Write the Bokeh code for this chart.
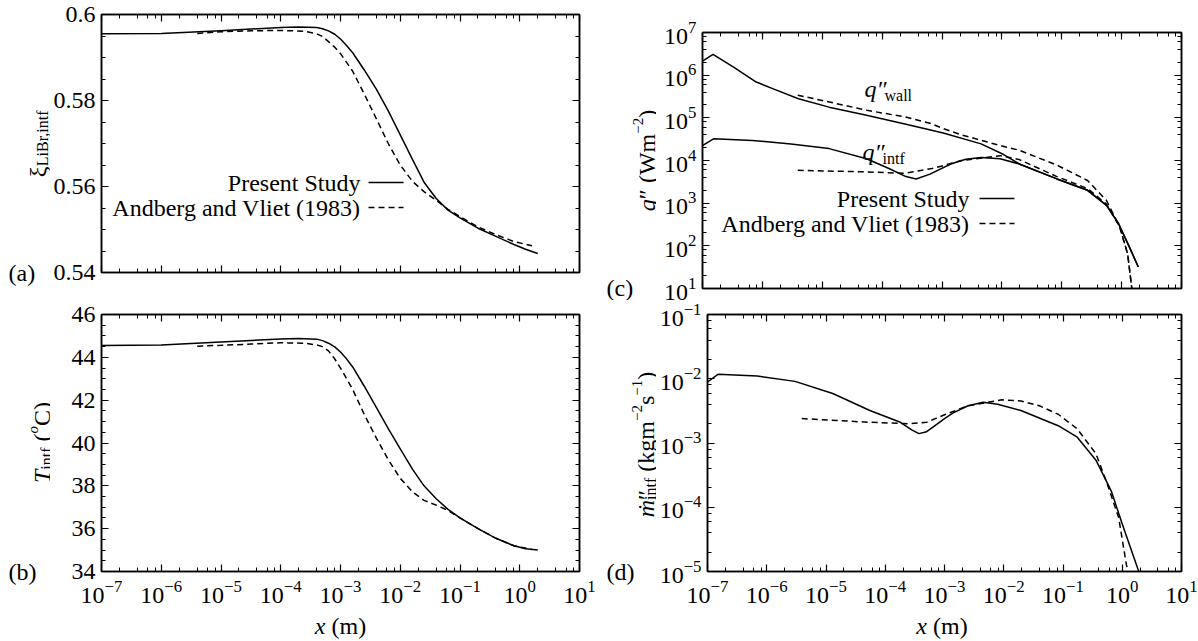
import math
from bokeh.plotting import figure
from bokeh.models import (Range1d, Label, Arrow, LogTicker, FixedTicker,
                          CustomJSTickFormatter, LogTickFormatter, LinearAxis, LogAxis)
from bokeh.layouts import row, column
from bokeh.embed import file_html
from bokeh.resources import INLINE

# ---------------- data (x in metres) ----------------
# (a) interfacial LiBr mass fraction, (b) interfacial temperature
x_present_ab = [1.0e-7, 1.0e-6, 1.0e-5, 3.2e-5, 1.0e-4, 2.0e-4, 4.0e-4, 5.0e-4, 6.3e-4,
                8.0e-4, 1.0e-3, 1.26e-3, 1.6e-3, 2.5e-3, 4.0e-3, 6.3e-3, 1.0e-2, 1.6e-2,
                2.5e-2, 4.0e-2, 6.3e-2, 0.1, 0.2, 0.4, 0.8, 1.25, 2.0]
xi_present = [0.5955, 0.5956, 0.5962, 0.5966, 0.5970, 0.5971, 0.5970, 0.5967, 0.5962,
              0.5954, 0.5943, 0.5928, 0.5911, 0.5871, 0.5826, 0.5776, 0.5720, 0.5663,
              0.5610, 0.5572, 0.5545, 0.5527, 0.5503, 0.5484, 0.5465, 0.5454, 0.5444]
T_present = [44.55, 44.58, 44.72, 44.79, 44.86, 44.88, 44.85, 44.78, 44.66,
             44.49, 44.25, 43.93, 43.55, 42.65, 41.65, 40.67, 39.73, 38.78,
             38.00, 37.40, 36.90, 36.50, 36.00, 35.55, 35.20, 35.06, 35.00]

x_andberg_ab = [4.0e-6, 1.0e-5, 3.2e-5, 1.0e-4, 2.5e-4, 4.0e-4, 5.0e-4, 6.3e-4, 8.0e-4,
                1.0e-3, 1.6e-3, 2.5e-3, 4.0e-3, 6.3e-3, 1.0e-2, 1.6e-2, 2.5e-2, 4.0e-2,
                6.3e-2, 0.1, 0.2, 0.4, 0.8, 1.6]
xi_andberg = [0.5956, 0.5960, 0.5962, 0.5963, 0.5961, 0.5955, 0.5949, 0.5937, 0.5924,
              0.5909, 0.5868, 0.5815, 0.5757, 0.5700, 0.5650, 0.5612, 0.5588, 0.5568,
              0.5547, 0.5530, 0.5506, 0.5488, 0.5472, 0.5462]
T_andberg = [44.52, 44.56, 44.62, 44.68, 44.66, 44.58, 44.50, 44.30, 43.93,
             43.50, 42.50, 41.33, 40.22, 39.22, 38.35, 37.72, 37.32, 37.10,
             36.85, 36.50, 36.00, 35.55, 35.20, 35.03]

# (c) heat fluxes
x_qwall_present = [1.0e-7, 1.5e-7, 3.3e-7, 7.9e-7, 1.45e-6, 4.0e-6, 1.3e-5, 5.5e-5, 2.4e-4,
                   1.05e-3, 4.5e-3, 1.07e-2, 1.95e-2, 8.3e-2, 0.27, 0.56, 0.89, 1.35, 1.9]
qwall_present = [2.14e6, 3.09e6, 1.55e6, 6.9e5, 4.9e5, 2.8e5, 1.78e5, 1.15e5, 7.2e4,
                 4.4e4, 2.45e4, 1.38e4, 8.3e3, 3.7e3, 2.0e3, 890, 330, 93, 32]
x_qintf_present = [1.0e-7, 1.55e-7, 6.8e-7, 3.0e-6, 1.3e-5, 5.5e-5, 1.3e-4, 2.5e-4, 3.7e-4,
                   6.3e-4, 1.4e-3, 2.5e-3, 4.5e-3, 9.3e-3, 1.95e-2, 8.3e-2, 0.27, 0.56,
                   0.89, 1.35, 1.9]
qintf_present = [2.24e4, 3.24e4, 2.95e4, 2.45e4, 1.9e4, 1.1e4, 6.5e3, 4.2e3, 3.7e3,
                 4.8e3, 8.3e3, 1.07e4, 1.17e4, 1.1e4, 8.3e3, 3.7e3, 2.0e3, 890,
                 330, 93, 32]
x_q_andberg = [3.9e-6, 5.6e-5, 2.4e-4, 6.8e-4, 1.05e-3, 2.1e-3, 9.3e-3, 1.95e-2, 8.3e-2,
               0.27, 0.56, 0.93, 1.26, 1.48]
qwall_andberg = [3.4e5, 1.5e5, 1.05e5, 7.2e4, 5.6e4, 4.0e4, 2.25e4, 1.74e4, 7.8e3,
                 3.4e3, 1.15e3, 275, 65, 10]
qintf_andberg = [5.9e3, 5.4e3, 5.0e3, 6.5e3, 7.6e3, 1.0e4, 1.3e4, 1.05e4, 4.2e3,
                 2.2e3, 950, 275, 65, 10]

# (d) interfacial mass flux
x_m_present = [1.0e-7, 1.5e-7, 6.9e-7, 3.0e-6, 1.3e-5, 5.5e-5, 1.8e-4, 2.8e-4, 3.7e-4,
               5.0e-4, 7.1e-4, 1.0e-3, 1.4e-3, 2.5e-3, 4.5e-3, 7.9e-3, 1.95e-2, 8.3e-2,
               0.174, 0.36, 0.65, 1.0, 1.9]
m_present = [8.9e-3, 1.17e-2, 1.1e-2, 9.1e-3, 5.9e-3, 3.2e-3, 2.1e-3, 1.6e-3, 1.4e-3,
             1.5e-3, 1.9e-3, 2.4e-3, 2.95e-3, 3.8e-3, 4.3e-3, 4.0e-3, 3.2e-3, 1.86e-3,
             1.23e-3, 5.4e-4, 1.8e-4, 5.5e-5, 1.0e-5]
x_m_andberg = [3.9e-6, 5.5e-5, 2.4e-4, 5.0e-4, 1.05e-3, 2.5e-3, 9.3e-3, 1.95e-2, 4.0e-2,
               8.3e-2, 0.174, 0.36, 0.56, 0.87, 1.17, 1.26]
m_andberg = [2.4e-3, 2.1e-3, 2.0e-3, 2.1e-3, 2.8e-3, 3.8e-3, 4.7e-3, 4.5e-3, 3.8e-3,
             2.8e-3, 1.66e-3, 6.8e-4, 2.3e-4, 6.9e-5, 1.3e-5, 1.0e-5]

# axis ticks for the linear panels
ticks_xi = [0.54, 0.56, 0.58, 0.60]
ticks_T = [34, 36, 38, 40, 42, 44, 46]
legend_labels = ["Present Study", "Andberg and Vliet (1983)"]

# ---------------- styling helpers ----------------
FONT = "Liberation Serif"
LW = 1.5
DASH = "6 4"
FS = 24

EM = {' ': 0.25, '(': 0.333, ')': 0.333, 'W': 0.944, 'm': 0.778, '−': 0.564, '2': 0.5,
      '1': 0.5, 'k': 0.5, 'g': 0.5, 's': 0.389, 'C': 0.667, 'T': 0.556, 'o': 0.5,
      'i': 0.278, 'n': 0.5, 't': 0.278, 'f': 0.333, 'ξ': 0.46, 'L': 0.611, 'B': 0.667,
      'r': 0.333, ',': 0.25, 'ṁ': 0.722, 'w': 0.722, 'a': 0.444, 'l': 0.278,
      'q': 0.5, '″': 0.42, 'x': 0.444}


def tw(s, size):
    return sum(EM.get(c, 0.5) for c in s) * size


def no_align(p):
    try:
        p.frame_align = False
    except Exception:
        pass


def make_fig(w, h, ylog, yr, borders):
    l, r, t, b = borders
    p = figure(width=w, height=h, x_axis_type="log", title=None,
               y_axis_type="log" if ylog else "linear",
               x_range=Range1d(1e-7, 10), y_range=Range1d(*yr),
               output_backend="svg", toolbar_location=None,
               min_border_left=l, min_border_right=r,
               min_border_top=t, min_border_bottom=b)
    p.grid.visible = False
    p.outline_line_color = "black"
    p.outline_line_width = LW
    p.background_fill_color = "white"
    p.border_fill_color = "white"
    no_align(p)
    return p


def text_fig(w, h):
    p = figure(width=w, height=h, x_range=Range1d(0, 1), y_range=Range1d(0, 1),
               x_axis_location=None, y_axis_location=None, title=None,
               output_backend="svg", toolbar_location=None, min_border=0)
    p.grid.visible = False
    p.outline_line_color = None
    p.background_fill_color = "white"
    p.border_fill_color = "white"
    no_align(p)
    return p


def style_axis(ax, labels, standoff=6):
    ax.major_tick_in = 7
    ax.major_tick_out = 0
    ax.minor_tick_in = 4
    ax.minor_tick_out = 0
    ax.axis_line_width = LW
    ax.axis_line_color = "black"
    ax.major_tick_line_width = 1.2
    ax.minor_tick_line_width = 1.0
    ax.major_tick_line_color = "black"
    ax.minor_tick_line_color = "black"
    ax.axis_label = None
    if labels:
        ax.major_label_text_font = FONT
        ax.major_label_text_font_size = f"{FS}px"
        ax.major_label_text_color = "black"
        ax.major_label_standoff = standoff
    else:
        ax.formatter = CustomJSTickFormatter(code="return ''")
        ax.major_label_text_font_size = "1px"
        ax.major_label_standoff = 0


def lin_ticker(major, step):
    minor = []
    v = major[0]
    while v <= major[-1] + 1e-9:
        minor.append(round(v, 6))
        v += step
    return FixedTicker(ticks=major, minor_ticks=minor)


def setup_axes(p, show_x, ylog, yticks=None, ystep=None, yfmt=None):
    bx = p.xaxis[0]
    bx.ticker = LogTicker(desired_num_ticks=10)
    style_axis(bx, show_x, standoff=9)
    if show_x:
        bx.formatter = LogTickFormatter()
    ly = p.yaxis[0]
    ly.ticker = LogTicker(desired_num_ticks=10) if ylog else lin_ticker(yticks, ystep)
    style_axis(ly, True, standoff=6)
    if ylog:
        ly.formatter = LogTickFormatter()
    elif yfmt is not None:
        ly.formatter = yfmt
    top = LogAxis(ticker=LogTicker(desired_num_ticks=10))
    style_axis(top, False)
    p.add_layout(top, "above")
    if ylog:
        right = LogAxis(ticker=LogTicker(desired_num_ticks=10))
    else:
        right = LinearAxis(ticker=lin_ticker(yticks, ystep))
    style_axis(right, False)
    p.add_layout(right, "right")


def put(p, info, px, py, text, size=FS, style="normal", align="left",
        baseline="middle", angle=0.0):
    ox, oy, fl, fb = info
    p.add_layout(Label(x=px - ox - fl, y=(oy + fb) - py, x_units="screen", y_units="screen",
                       text=text, text_font=FONT, text_font_size=f"{size}px",
                       text_font_style=style, text_align=align, text_baseline=baseline,
                       angle=angle, text_color="black"))


def vtext(p, info, xb, ycenter, pieces):
    # rotated (bottom-to-top) label composed of pieces; leading spaces become gaps
    total = sum(tw(t, s) for t, s, st, dx, adv in pieces if adv)
    y = ycenter + total / 2
    for t, s, st, dx, adv in pieces:
        body = t.lstrip(" ")
        gap = tw(t[:len(t) - len(body)], s)
        put(p, info, xb + dx, y - gap, body, s, st, baseline="alphabetic", angle=math.pi / 2)
        if adv:
            y -= tw(t, s)


def seg(p, info, x0, x1, py, dash=None):
    ox, oy, fl, fb = info
    kw = dict(line_dash=dash) if dash else {}
    p.add_layout(Arrow(x_start=x0 - ox - fl, y_start=(oy + fb) - py,
                       x_end=x1 - ox - fl, y_end=(oy + fb) - py,
                       start_units="screen", end_units="screen", start=None, end=None,
                       line_color="black", line_width=LW, **kw))


def legend(p, info, xr, l0, l1, y0, y1):
    put(p, info, xr, y0, legend_labels[0], align="right")
    seg(p, info, l0, l1, y0)
    put(p, info, xr, y1, legend_labels[1], align="right")
    seg(p, info, l0, l1, y1, DASH)


def xlabel(p, info, xc, py):
    total = tw("x (m)", FS)
    x0 = xc - total / 2
    put(p, info, x0, py, "x", style="italic")
    put(p, info, x0 + tw("x ", FS), py, "(m)")


xi_fmt = CustomJSTickFormatter(code="return (Math.round(tick*100)/100).toString()")

# page layout: row 1 = 300 px, row 2 = 311 px, x-label strip = 30 px
H1, H2, H3 = 300, 311, 30

# ---------------- panel (a) ----------------
pa = make_fig(550, H1, False, (0.54, 0.60), (51, 21, 14, 28))
setup_axes(pa, False, False, ticks_xi, 0.005, xi_fmt)
pa.line(x_present_ab, xi_present, line_color="black", line_width=LW, line_join="round")
pa.line(x_andberg_ab, xi_andberg, line_color="black", line_width=LW, line_dash=DASH)
IA = (50, 0, 51, 272)
legend(pa, IA, 360, 368, 403, 182, 207)

la = text_fig(50, H1)
LA = (0, 0, 0, H1)
put(la, LA, 8, 272, "(a)")
vtext(la, LA, 37, 143, [("ξ", FS, "normal", 0, True),
                        ("LiBr,intf", 16, "normal", 5, True)])

# ---------------- panel (b) ----------------
pb = make_fig(550, H2, False, (34, 46), (51, 21, 14, 40))
setup_axes(pb, True, False, ticks_T, 0.5)
pb.line(x_present_ab, T_present, line_color="black", line_width=LW, line_join="round")
pb.line(x_andberg_ab, T_andberg, line_color="black", line_width=LW, line_dash=DASH)

lb = text_fig(50, H2)
LB = (0, H1, 0, H2)
put(lb, LB, 8, 571, "(b)")
vtext(lb, LB, 41, 442, [("T", FS, "italic", 0, True),
                        ("intf", 16, "normal", 5, True),
                        (" (", FS, "normal", 0, True),
                        ("o", 15, "italic", -9, True),
                        ("C)", FS, "normal", 0, True)])

# ---------------- panel (c) ----------------
pc = make_fig(542, H1, True, (10, 1e7), (46, 17, 32, 12))
setup_axes(pc, False, True)
pc.line(x_qwall_present, qwall_present, line_color="black", line_width=LW, line_join="round")
pc.line(x_qintf_present, qintf_present, line_color="black", line_width=LW, line_join="round")
pc.line(x_q_andberg, qwall_andberg, line_color="black", line_width=LW, line_dash=DASH)
pc.line(x_q_andberg, qintf_andberg, line_color="black", line_width=LW, line_dash=DASH)
IC = (656, 0, 46, 288)
legend(pc, IC, 969, 979, 1014, 198, 223)
put(pc, IC, 864, 88, "q″", style="italic", baseline="alphabetic")
put(pc, IC, 884, 95, "wall", 16, baseline="alphabetic")
put(pc, IC, 862, 151, "q″", style="italic", baseline="alphabetic")
put(pc, IC, 882, 158, "intf", 16, baseline="alphabetic")

lc = text_fig(56, H1)
LC = (600, 0, 0, H1)
put(lc, LC, 606, 287, "(c)")
vtext(lc, LC, 646, 160, [("q", FS, "italic", 0, True),
                         ("″", FS, "normal", 0, True),
                         (" (Wm", FS, "normal", 0, True),
                         ("−2", 15, "normal", -9, True),
                         (")", FS, "normal", 0, True)])

# ---------------- panel (d) ----------------
pd = make_fig(542, H2, True, (1e-5, 1e-1), (46, 17, 14, 40))
setup_axes(pd, True, True)
pd.line(x_m_present, m_present, line_color="black", line_width=LW, line_join="round")
pd.line(x_m_andberg, m_andberg, line_color="black", line_width=LW, line_dash=DASH)

ld = text_fig(56, H2)
LD = (600, H1, 0, H2)
put(ld, LD, 606, 571, "(d)")
vtext(ld, LD, 645, 444, [("ṁ", FS, "italic", 0, True),
                         ("″", FS, "normal", 0, False),
                         ("intf", 16, "normal", 5, True),
                         (" (kgm", FS, "normal", 0, True),
                         ("−2", 15, "normal", -9, True),
                         ("s", FS, "normal", 0, True),
                         ("−1", 15, "normal", -9, True),
                         (")", FS, "normal", 0, True)])

# ---------------- x-axis titles ----------------
xl = text_fig(1198, H3)
XL = (0, H1 + H2, 0, H3)
xlabel(xl, XL, 340, 625)
xlabel(xl, XL, 941.5, 625)

layout = column(row(la, pa, lc, pc), row(lb, pb, ld, pd), xl)
open("out.html", "w").write(file_html(layout, INLINE))
